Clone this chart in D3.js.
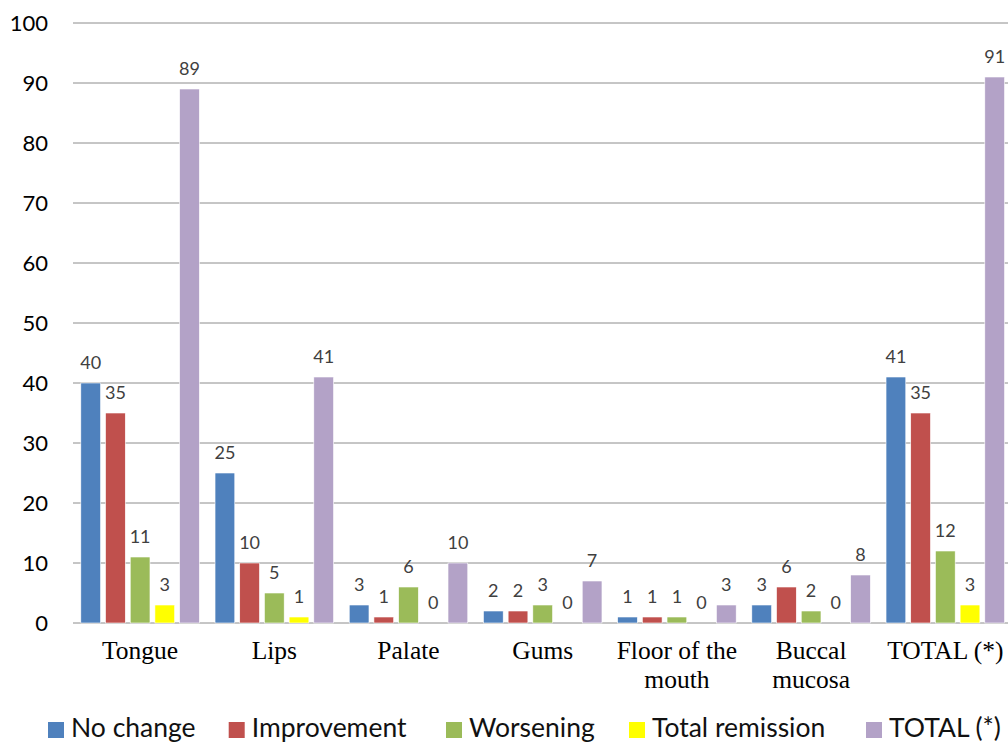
<!DOCTYPE html>
<html>
<head>
<meta charset="utf-8">
<script src="https://cdn.jsdelivr.net/npm/d3@7"></script>
<style>
  body { margin: 0; background: #fff; }
  #chart-area { width: 1008px; height: 742px; overflow: hidden; }
</style>
</head>
<body>
<div id="chart-area"></div>
<script>

// Data
let categories = ["Tongue", "Lips", "Palate", "Gums", "Floor of the\nmouth", "Buccal\nmucosa", "TOTAL (*)"];
let seriesNames = ["No change", "Improvement", "Worsening", "Total remission", "TOTAL (*)"];
let noChange = [40, 25, 3, 2, 1, 3, 41];
let improvement = [35, 10, 1, 2, 1, 6, 35];
let worsening = [11, 5, 6, 3, 1, 2, 12];
let totalRemission = [3, 1, 0, 0, 0, 0, 3];
let totalAll = [89, 41, 10, 7, 3, 8, 91];
let yTicks = [0, 10, 20, 30, 40, 50, 60, 70, 80, 90, 100];
let colors = ["#4F81BD", "#C0504D", "#9BBB59", "#FFFF00", "#B3A2C7"];

let values = [noChange, improvement, worsening, totalRemission, totalAll];

// SVG drawing area
let margin = {top: 23, right: 0, bottom: 119, left: 73};
let width = 939.4,
    height = 742 - margin.top - margin.bottom;

let svg = d3.select("#chart-area").append("svg")
    .attr("width", 1008)
    .attr("height", 742)
  .append("g")
    .attr("transform", "translate(" + margin.left + "," + margin.top + ")");

// Scales
let x0 = d3.scaleBand()
    .domain(categories)
    .range([0, width])
    .padding(0);

let x1 = d3.scaleBand()
    .domain(seriesNames)
    .range([0, x0.bandwidth()])
    .paddingInner(0.2)
    .paddingOuter(0.317);

let y = d3.scaleLinear()
    .domain([0, 100])
    .range([height, 0]);

// gridlines
svg.selectAll(".grid")
    .data(yTicks)
  .enter().append("line")
    .attr("class", "grid")
    .attr("x1", 0)
    .attr("x2", 1008 - margin.left)
    .attr("y1", d => y(d))
    .attr("y2", d => y(d))
    .attr("stroke", "#8c8c8c")
    .attr("stroke-width", 1);

// y tick labels
svg.selectAll(".ytick")
    .data(yTicks)
  .enter().append("text")
    .attr("class", "ytick")
    .attr("x", -25)
    .attr("y", d => y(d))
    .attr("dy", "0.35em")
    .attr("text-anchor", "end")
    .style("font-family", "Lato, 'Open Sans', sans-serif")
    .style("font-size", "22px")
    .style("fill", "#000")
    .text(d => d);

// bars
let rows = [];
categories.forEach((c, i) => {
    seriesNames.forEach((s, j) => {
        rows.push({cat: c, series: s, value: values[j][i], color: colors[j]});
    });
});

svg.selectAll("rect.bar")
    .data(rows)
  .enter().append("rect")
    .attr("class", "bar")
    .attr("x", d => x0(d.cat) + x1(d.series))
    .attr("y", d => y(d.value))
    .attr("width", x1.bandwidth())
    .attr("height", d => height - y(d.value))
    .attr("fill", d => d.color)
    .attr("stroke", "#fff")
    .attr("stroke-width", 0.6);

// data labels
svg.selectAll("text.lab")
    .data(rows)
  .enter().append("text")
    .attr("class", "lab")
    .attr("x", d => x0(d.cat) + x1(d.series) + x1.bandwidth() / 2)
    .attr("y", d => y(d.value) - 14)
    .attr("text-anchor", "middle")
    .style("font-family", "Lato, 'Open Sans', sans-serif")
    .style("font-size", "18px")
    .style("fill", "#404040")
    .text(d => d.value);

// category labels
let catText = svg.selectAll("text.cat")
    .data(categories)
  .enter().append("text")
    .attr("class", "cat")
    .attr("x", d => x0(d) + x0.bandwidth() / 2)
    .attr("y", height + 36)
    .attr("text-anchor", "middle")
    .style("font-family", "'Liberation Serif', 'Times New Roman', serif")
    .style("font-size", "25.5px")
    .style("fill", "#000");

catText.each(function(d) {
    let lines = d.split("\n");
    let t = d3.select(this);
    lines.forEach((l, k) => {
        t.append("tspan")
            .attr("x", x0(d) + x0.bandwidth() / 2)
            .attr("dy", k == 0 ? 0 : 29)
            .text(l);
    });
});

// legend
let legendX = [48, 228.7, 446, 629, 866];
let legend = d3.select("svg").selectAll("g.legend")
    .data(seriesNames)
  .enter().append("g")
    .attr("class", "legend")
    .attr("transform", (d, i) => "translate(" + legendX[i] + ",722)");

legend.append("rect")
    .attr("width", 16)
    .attr("height", 16)
    .attr("fill", (d, i) => colors[i]);

legend.append("text")
    .attr("x", 23)
    .attr("y", 15)
    .style("font-family", "Lato, 'Open Sans', sans-serif")
    .style("font-size", "26.5px")
    .style("fill", "#111")
    .text(d => d);

</script>
</body>
</html>
